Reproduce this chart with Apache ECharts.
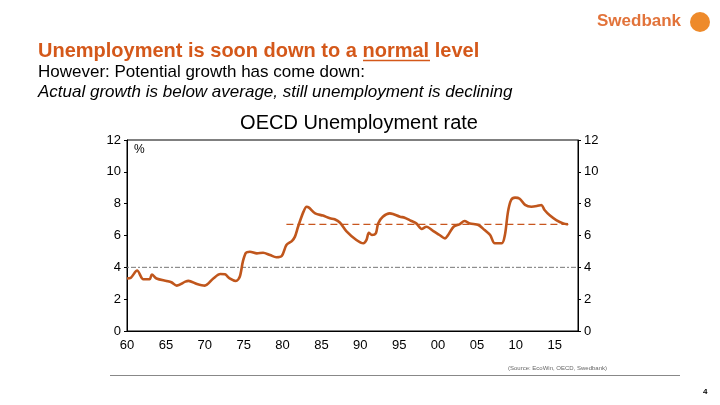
<!DOCTYPE html>
<html>
<head>
<meta charset="utf-8">
<script src="https://cdn.jsdelivr.net/npm/echarts@6/dist/echarts.min.js"></script>
<style>
html,body{margin:0;padding:0;background:#fff;}
#chart{width:720px;height:405px;}
</style>
</head>
<body>
<div id="chart"></div>
<script>
// ---- data ----
var years = [1960.0,1960.5,1961.3,1962.1,1962.9,1963.2,1963.8,1965.1,1965.7,1966.4,1967.5,1967.9,1969.0,1970.0,1971.1,1972.0,1972.6,1973.2,1974.0,1974.5,1974.9,1975.3,1975.8,1976.7,1977.5,1978.4,1979.2,1979.9,1980.5,1981.2,1981.6,1982.0,1982.7,1983.1,1983.4,1984.2,1985.2,1986.1,1986.7,1987.4,1988.2,1989.5,1990.4,1990.8,1991.1,1991.5,1992.0,1992.3,1992.9,1993.8,1994.2,1995.1,1995.7,1996.4,1997.2,1997.9,1998.5,1999.4,2000.2,2000.9,2001.3,2002.0,2002.8,2003.4,2004.1,2005.2,2006.0,2006.7,2007.3,2008.2,2008.6,2009.0,2009.4,2009.9,2010.5,2011.2,2012.0,2012.7,2013.3,2013.7,2014.4,2015.2,2016.1,2016.7];
var unemployment = [3.3,3.35,3.8,3.25,3.25,3.55,3.3,3.14,3.06,2.85,3.1,3.15,2.95,2.85,3.3,3.58,3.56,3.3,3.14,3.41,4.36,4.92,4.98,4.88,4.92,4.77,4.63,4.71,5.4,5.65,5.93,6.55,7.5,7.81,7.75,7.39,7.25,7.08,7.02,6.8,6.28,5.72,5.51,5.72,6.17,6.03,6.14,6.76,7.18,7.39,7.35,7.18,7.12,6.95,6.76,6.41,6.55,6.28,6.03,5.82,6.03,6.55,6.72,6.91,6.76,6.66,6.34,6.03,5.51,5.51,6.03,7.5,8.23,8.38,8.31,7.92,7.81,7.85,7.92,7.6,7.25,6.97,6.76,6.7];
var averageYears = [1980.5, 2017.0];
var averageLevel = 6.7;
var normalYears = [1960, 2018];
var normalLevel = 4;
var yTicks = [0, 2, 4, 6, 8, 10, 12];

var headline = 'Unemployment is soon down to a ';
var headlineUnder = 'normal';
var headlineEnd = ' level';
var subtitle1 = 'However: Potential growth has come down:';
var subtitle2 = 'Actual growth is below average, still unemployment is declining';
var chartTitle = 'OECD Unemployment rate';
var sourceText = '(Source: EcoWin, OECD, Swedbank)';

// ---- chart ----
var FONT = "'Liberation Sans', Arial, sans-serif";
var mainData = years.map(function (y, i) { return [y, unemployment[i]]; });
var avgData = averageYears.map(function (y) { return [y, averageLevel]; });
var normData = normalYears.map(function (y) { return [y, normalLevel]; });

var chart = echarts.init(document.getElementById('chart'), null, {renderer: 'canvas'});
var yAxisCommon = {
  type: 'value', min: yTicks[0], max: yTicks[yTicks.length - 1], interval: 2,
  splitLine: {show: false},
  axisLine: {show: true, lineStyle: {color: '#000', width: 1}},
  axisTick: {show: true, length: 3, lineStyle: {color: '#000'}},
  axisLabel: {color: '#000', fontFamily: FONT, fontSize: 13, margin: 6}
};
chart.setOption({
  animation: false,
  backgroundColor: '#fff',
  title: {
    text: chartTitle, left: 354, top: 108, textAlign: 'center',
    textStyle: {fontFamily: FONT, fontSize: 20, fontWeight: 'normal', color: '#000'}
  },
  grid: {left: 127, right: 142, top: 140, bottom: 74, show: true, borderColor: '#000', borderWidth: 1, backgroundColor: 'transparent'},
  xAxis: {
    type: 'value', min: 1960, max: 2018, interval: 5,
    splitLine: {show: false},
    axisLine: {show: true, onZero: false, lineStyle: {color: '#000'}},
    axisTick: {show: false},
    axisLabel: {
      color: '#000', fontFamily: FONT, fontSize: 13, margin: 8, showMaxLabel: false,
      formatter: function (v) { var s = String(Math.round(v) % 100); return s.length < 2 ? '0' + s : s; }
    }
  },
  yAxis: [
    Object.assign({}, yAxisCommon, {position: 'left'}),
    Object.assign({}, yAxisCommon, {position: 'right'})
  ],
  series: [
    {
      type: 'line', data: normData, showSymbol: false, silent: true,
      lineStyle: {color: '#777', width: 1, type: [2, 2, 5, 2]}
    },
    {
      type: 'line', data: avgData, showSymbol: false, silent: true,
      lineStyle: {color: '#C8561E', width: 1.3, type: [7, 4]}
    },
    {
      type: 'line', data: mainData, showSymbol: false, smooth: 0.3, silent: true,
      lineStyle: {color: '#C0561C', width: 2.6}
    }
  ],
  graphic: [
    {type: 'text', left: 38, top: 41, style: {
      text: '{a|' + headline + '}{b|' + headlineUnder + '}{a|' + headlineEnd + '}',
      rich: {
        a: {fontFamily: FONT, fontSize: 20, fontWeight: 'bold', fill: '#D4581A'},
        b: {fontFamily: FONT, fontSize: 20, fontWeight: 'bold', fill: '#D4581A'}
      }
    }},
    {type: 'line', shape: {x1: 363, y1: 60.5, x2: 430, y2: 60.5}, style: {stroke: '#D4581A', lineWidth: 1.5}},
    {type: 'text', left: 38, top: 64, style: {text: subtitle1, fontFamily: FONT, fontSize: 17, fill: '#000'}},
    {type: 'text', left: 38, top: 84, style: {text: subtitle2, fontFamily: FONT, fontSize: 17, fontStyle: 'italic', fill: '#000'}},
    {type: 'text', left: 134, top: 144, style: {text: '%', fontFamily: FONT, fontSize: 12, fill: '#000'}},
    {type: 'text', left: 597, top: 13, style: {text: 'Swedbank', fontFamily: FONT, fontSize: 17, fontWeight: 'bold', fill: '#E2733A'}},
    {type: 'circle', shape: {cx: 700, cy: 22, r: 10}, style: {fill: '#EE8A2A'}},
    {type: 'line', shape: {x1: 110, y1: 375.5, x2: 680, y2: 375.5}, style: {stroke: '#888', lineWidth: 1}},
    {type: 'text', left: 508, top: 365, style: {text: sourceText, fontFamily: FONT, fontSize: 6, fill: '#666'}},
    {type: 'text', left: 703, top: 388, style: {text: '4', fontFamily: FONT, fontSize: 8, fontWeight: 'bold', fill: '#000'}}
  ]
});
</script>
</body>
</html>
